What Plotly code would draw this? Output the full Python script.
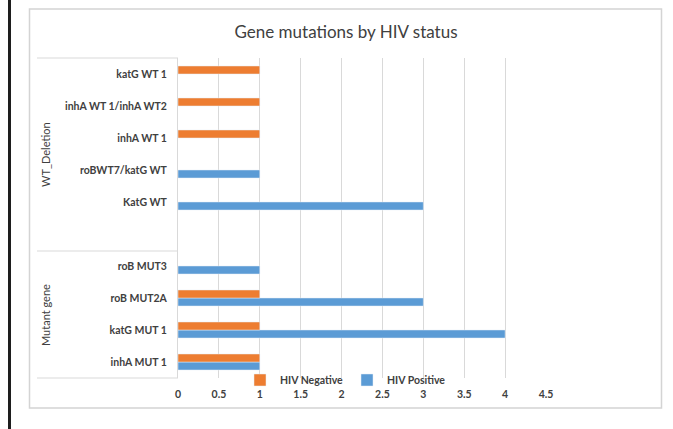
import plotly.graph_objects as go

# Data (bottom to top, as drawn)
categories = ["inhA MUT 1", "katG MUT 1", "roB MUT2A", "roB MUT3", " ",
              "KatG WT", "roBWT7/katG WT", "inhA WT 1", "inhA WT 1/inhA WT2", "katG WT 1"]
hiv_negative = [1, 1, 1, None, None, None, None, 1, 1, 1]
hiv_positive = [1, 4, 3, 1, None, 3, 1, None, None, None]
group_labels = ["Mutant gene", "WT_Deletion"]
x_ticks = [0, 0.5, 1, 1.5, 2, 2.5, 3, 3.5, 4, 4.5]
x_tick_text = ["0", "0.5", "1", "1.5", "2", "2.5", "3", "3.5", "4", "4.5"]

W, H = 673, 429
PL, PR, PT, PB = 178, 546, 58, 378  # plot area in pixels


def px(x):
    return (x - PL) / (PR - PL)


def py(y):
    return (PB - y) / (PB - PT)


FONT = "Lato, 'Open Sans', sans-serif"
BLUE = "#5B9BD5"
ORANGE = "#ED7D31"
GRID = "#D9D9D9"
TXT = "#404040"

fig = go.Figure()
fig.add_trace(go.Bar(y=categories, x=hiv_positive, orientation="h", name="HIV Positive",
                     marker=dict(color=BLUE), legend="legend2"))
fig.add_trace(go.Bar(y=categories, x=hiv_negative, orientation="h", name="HIV Negative",
                     marker=dict(color=ORANGE), legend="legend"))

shapes = [
    # dark left border of the page
    dict(type="rect", xref="paper", yref="paper", x0=px(8), x1=px(11), y0=py(0), y1=py(429),
         fillcolor="#1E1E1E", line=dict(width=0), layer="above"),
    # chart box
    dict(type="rect", xref="paper", yref="paper", x0=px(29.5), x1=px(661.5), y0=py(9), y1=py(408),
         line=dict(color="#D4D4D4", width=1.5), fillcolor="rgba(0,0,0,0)"),
]
for yy in [58, 251, 378]:
    shapes.append(dict(type="line", xref="paper", yref="paper", x0=px(37), x1=px(178),
                       y0=py(yy), y1=py(yy), line=dict(color=GRID, width=1)))

annotations = [
    dict(text=group_labels[1], x=px(45), y=py(155), xref="paper", yref="paper",
         xanchor="center", yanchor="middle",
         textangle=-90, showarrow=False, font=dict(family=FONT, size=11, color=TXT)),
    dict(text=group_labels[0], x=px(45), y=py(315), xref="paper", yref="paper",
         xanchor="center", yanchor="middle",
         textangle=-90, showarrow=False, font=dict(family=FONT, size=11, color=TXT)),
]

legend_font = dict(family=FONT, size=10.5, color=TXT, weight="bold")

fig.update_layout(
    width=W, height=H,
    margin=dict(l=PL, r=W - PR, t=PT, b=H - PB),
    paper_bgcolor="white", plot_bgcolor="white",
    barmode="group", bargap=0.5, bargroupgap=0,
    title=dict(text="Gene mutations by HIV status", x=px(346), xref="paper", xanchor="center",
               y=1 - 32 / H, yref="container", yanchor="middle",
               font=dict(family=FONT, size=17, color=TXT)),
    xaxis=dict(range=[0, 4.5], tickvals=x_ticks, ticktext=x_tick_text,
               showgrid=True, gridcolor=GRID, gridwidth=1, zeroline=False, showline=False,
               ticks="", ticklabelstandoff=8,
               tickfont=dict(family=FONT, size=10.5, color=TXT, weight="bold")),
    yaxis=dict(type="category", categoryorder="array", categoryarray=categories,
               range=[-0.5, 9.5], showgrid=False, zeroline=False,
               showline=True, linecolor=GRID, linewidth=1,
               ticks="", ticklabelstandoff=8,
               tickfont=dict(family=FONT, size=10.5, color=TXT, weight="bold")),
    legend=dict(orientation="h", x=px(240), xanchor="left", y=py(380), yanchor="middle",
                bgcolor="rgba(0,0,0,0)", font=legend_font, itemwidth=30),
    legend2=dict(orientation="h", x=px(347), xanchor="left", y=py(380), yanchor="middle",
                 bgcolor="rgba(0,0,0,0)", font=legend_font, itemwidth=30),
    shapes=shapes,
    annotations=annotations,
    showlegend=True,
)

fig.write_html("out.html", config={"displayModeBar": False},
               post_script="document.body.style.margin='0px';")
